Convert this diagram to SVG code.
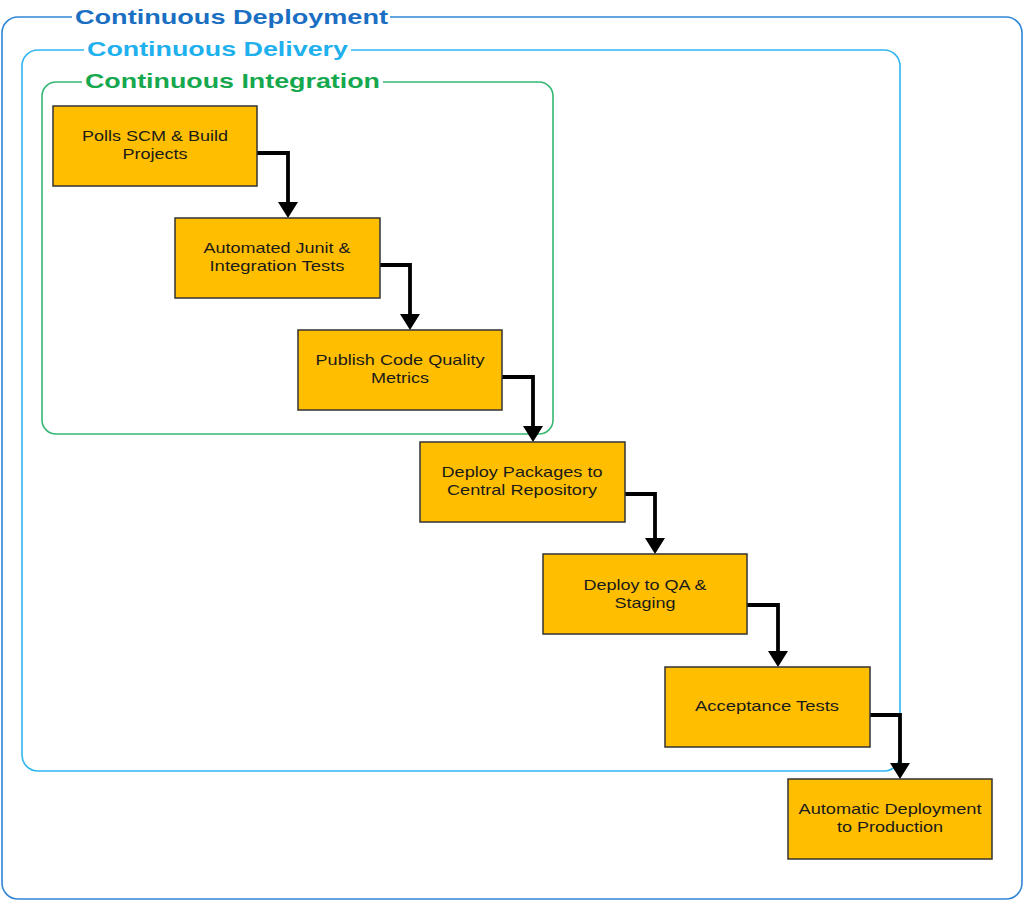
<svg xmlns="http://www.w3.org/2000/svg" width="1025" height="902" viewBox="0 0 1025 902">
  <style>
    .frame { fill: none; stroke-width: 1.6; }
    .ttl { font-family: "Liberation Sans", Arial, sans-serif; font-weight: bold; font-size: 21px; }
    .node rect { fill: #ffbf00; stroke: #333333; stroke-width: 1.5; }
    .node text { font-family: "Liberation Sans", Arial, sans-serif; font-size: 15px; fill: #1a1a1a; text-anchor: middle; }
    .conn path { fill: none; stroke: #000000; stroke-width: 3.8; stroke-linejoin: miter; }
    .conn polygon { fill: #000000; }
  </style>
  <rect width="1025" height="902" fill="#ffffff"/>

  <!-- nested stage frames -->
  <g id="stage-deployment">
    <rect class="frame" x="2" y="17" width="1020" height="882" rx="16" stroke="#2f86d6"/>
    <rect x="72" y="5" width="318" height="24" fill="#ffffff"/>
    <text class="ttl" x="75" y="24" fill="#1b6fc2" textLength="313" lengthAdjust="spacingAndGlyphs">Continuous Deployment</text>
  </g>
  <g id="stage-delivery">
    <rect class="frame" x="22" y="50" width="878" height="721" rx="16" stroke="#30b6ef"/>
    <rect x="84" y="38" width="267" height="24" fill="#ffffff"/>
    <text class="ttl" x="87" y="56" fill="#1fb0ee" textLength="261" lengthAdjust="spacingAndGlyphs">Continuous Delivery</text>
  </g>
  <g id="stage-integration">
    <rect class="frame" x="42" y="82" width="511" height="352" rx="14" stroke="#35b873"/>
    <rect x="82" y="70" width="301" height="24" fill="#ffffff"/>
    <text class="ttl" x="85" y="88" fill="#16a84e" textLength="295" lengthAdjust="spacingAndGlyphs">Continuous Integration</text>
  </g>

  <!-- connectors: elbow line plus filled arrowhead -->
  <g id="connectors" class="conn">
    <path d="M257,153 H288 V204"/>
    <polygon points="278,202 298,202 288,218"/>
    <path d="M380,265 H410 V316"/>
    <polygon points="400,314 420,314 410,330"/>
    <path d="M502,377 H533 V428"/>
    <polygon points="523,426 543,426 533,442"/>
    <path d="M625,494 H655 V540"/>
    <polygon points="645,538 665,538 655,554"/>
    <path d="M747,605 H778 V653"/>
    <polygon points="768,651 788,651 778,667"/>
    <path d="M870,715 H900 V765"/>
    <polygon points="890,763 910,763 900,779"/>
  </g>

  <!-- pipeline steps -->
  <g id="n1" class="node">
    <rect x="53" y="106" width="204" height="80"/>
    <text x="155" y="141" textLength="146" lengthAdjust="spacingAndGlyphs">Polls SCM &amp; Build</text>
    <text x="155" y="159" textLength="65" lengthAdjust="spacingAndGlyphs">Projects</text>
  </g>
  <g id="n2" class="node">
    <rect x="175" y="218" width="205" height="80"/>
    <text x="277" y="253" textLength="147" lengthAdjust="spacingAndGlyphs">Automated Junit &amp;</text>
    <text x="277" y="271" textLength="135" lengthAdjust="spacingAndGlyphs">Integration Tests</text>
  </g>
  <g id="n3" class="node">
    <rect x="298" y="330" width="204" height="80"/>
    <text x="400" y="365" textLength="169" lengthAdjust="spacingAndGlyphs">Publish Code Quality</text>
    <text x="400" y="383" textLength="58" lengthAdjust="spacingAndGlyphs">Metrics</text>
  </g>
  <g id="n4" class="node">
    <rect x="420" y="442" width="205" height="80"/>
    <text x="522" y="477" textLength="161" lengthAdjust="spacingAndGlyphs">Deploy Packages to</text>
    <text x="522" y="495" textLength="150" lengthAdjust="spacingAndGlyphs">Central Repository</text>
  </g>
  <g id="n5" class="node">
    <rect x="543" y="554" width="204" height="80"/>
    <text x="645" y="590" textLength="123" lengthAdjust="spacingAndGlyphs">Deploy to QA &amp;</text>
    <text x="645" y="608" textLength="61" lengthAdjust="spacingAndGlyphs">Staging</text>
  </g>
  <g id="n6" class="node">
    <rect x="665" y="667" width="205" height="80"/>
    <text x="767" y="711" textLength="144" lengthAdjust="spacingAndGlyphs">Acceptance Tests</text>
  </g>
  <g id="n7" class="node">
    <rect x="788" y="779" width="204" height="80"/>
    <text x="890" y="814" textLength="183" lengthAdjust="spacingAndGlyphs">Automatic Deployment</text>
    <text x="890" y="832" textLength="106" lengthAdjust="spacingAndGlyphs">to Production</text>
  </g>
</svg>
